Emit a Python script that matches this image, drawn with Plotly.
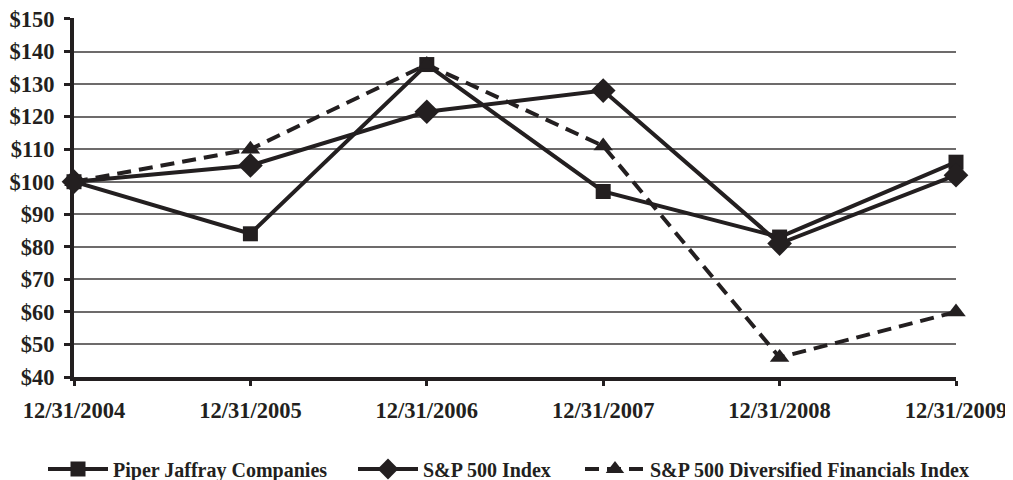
import plotly.graph_objects as go

dates = ["12/31/2004", "12/31/2005", "12/31/2006", "12/31/2007", "12/31/2008", "12/31/2009"]
piper = [100, 84, 136, 97, 83, 106]
sp500 = [100, 105, 121.5, 128, 81, 102]
divfin = [100, 110, 136, 111, 46, 60]
y_ticks = [40, 50, 60, 70, 80, 90, 100, 110, 120, 130, 140, 150]
y_labels = ["$" + str(v) for v in y_ticks]

ink = "#231f20"
font_family = "Liberation Serif, Times New Roman, serif"
legend_font = dict(size=20, family=font_family, color=ink, weight="bold")

# The page body adds an 8px offset, so the figure is 8px smaller than the window.
W, H = 1005, 472

fig = go.Figure()
fig.add_trace(go.Scatter(x=dates, y=piper, name="Piper Jaffray Companies", mode="lines+markers",
                         line=dict(color=ink, width=4), cliponaxis=False, legend="legend",
                         marker=dict(symbol="square", size=15, color=ink)))
fig.add_trace(go.Scatter(x=dates, y=sp500, name="S&P 500 Index", mode="lines+markers",
                         line=dict(color=ink, width=4), cliponaxis=False, legend="legend2",
                         marker=dict(symbol="diamond", size=19, color=ink)))
fig.add_trace(go.Scatter(x=dates, y=divfin, name="S&P 500 Diversified Financials Index", mode="lines+markers",
                         line=dict(color=ink, width=4, dash="14px,8px"), cliponaxis=False, legend="legend3",
                         marker=dict(symbol="triangle-up", size=17, color=ink)))

def leg(xpx):
    return dict(xref="container", yref="container", x=xpx / W, xanchor="left",
                y=(H - 461) / H, yanchor="middle", font=legend_font,
                itemwidth=60, bgcolor="rgba(0,0,0,0)", borderwidth=0)

fig.update_layout(
    width=W, height=H,
    margin=dict(l=66, r=57, t=10, b=103, autoexpand=False),
    paper_bgcolor="white", plot_bgcolor="white",
    font=dict(family=font_family, color=ink),
    showlegend=True,
    legend=leg(35),
    legend2=leg(345),
    legend3=leg(572),
    xaxis=dict(type="category", range=[0, 5], showgrid=False, automargin=False,
               showline=True, linecolor=ink, linewidth=4,
               ticks="outside", ticklen=5, tickwidth=3, tickcolor=ink,
               ticklabelstandoff=5, ticklabeloverflow="allow",
               tickfont=dict(size=22.5, family=font_family, color=ink, weight="bold"),
               zeroline=False),
    yaxis=dict(range=[40, 150.3], tickvals=y_ticks, ticktext=y_labels, automargin=False,
               showgrid=True, gridcolor="#6d6b6b", gridwidth=1.5,
               showline=True, linecolor=ink, linewidth=4,
               ticks="outside", ticklen=6, tickwidth=3, tickcolor=ink,
               ticklabelstandoff=5, ticklabeloverflow="allow",
               tickfont=dict(size=22.5, family=font_family, color=ink, weight="bold"),
               zeroline=False),
)

fig.write_html("out.html")
